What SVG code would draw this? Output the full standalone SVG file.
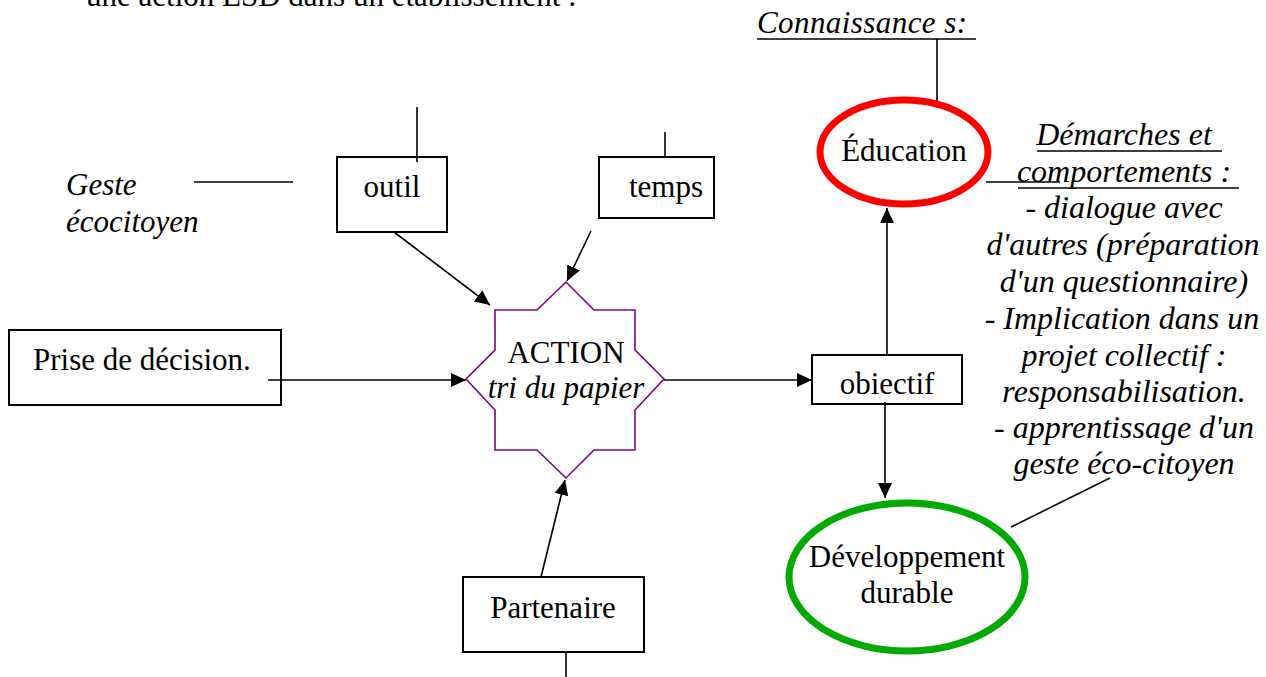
<svg xmlns="http://www.w3.org/2000/svg" width="1266" height="677" viewBox="0 0 1266 677">
<style>
text{font-family:"Liberation Serif","Times New Roman",serif;font-size:31px;fill:#000}
.it{font-style:italic}
.mid{text-anchor:middle}
.rt{font-size:32px}
.box{fill:#fff;stroke:#000;stroke-width:2}
.ln{stroke:#000;stroke-width:1.6;fill:none}
.arr{stroke:#000;stroke-width:1.6;fill:none;marker-end:url(#ah)}
</style>
<defs>
<marker id="ah" markerUnits="userSpaceOnUse" markerWidth="16" markerHeight="14" refX="15" refY="7" orient="auto">
<path d="M0,0 L15,7 L0,14 z" fill="#000"/>
</marker>
</defs>
<rect width="1266" height="677" fill="#fff"/>
<g id="title"><text x="86" y="6">une action ESD dans un établissement :</text></g>
<g id="connaissances">
<text class="it" x="757" y="33" textLength="210">Connaissance s:</text>
<line class="ln" x1="757" y1="39" x2="976" y2="39"/>
</g>
<g id="geste">
<text class="it" x="66" y="195">Geste</text>
<text class="it" x="66" y="232">écocitoyen</text>
</g>
<g id="demarches">
<text class="it mid rt" x="1124" y="145">Démarches et </text>
<line class="ln" x1="1037" y1="151" x2="1222" y2="151"/>
<text class="it mid rt" x="1124" y="182">comportements : </text>
<line class="ln" x1="1018" y1="188" x2="1239" y2="188"/>
<text class="it mid rt" x="1124" y="218">- dialogue avec</text>
<text class="it mid rt" x="1123" y="255">d'autres (préparation</text>
<text class="it mid rt" x="1124" y="292">d'un questionnaire)</text>
<text class="it mid rt" x="1122" y="329">- Implication dans un</text>
<text class="it mid rt" x="1124" y="366">projet collectif :</text>
<text class="it mid rt" x="1124" y="402">responsabilisation.</text>
<text class="it mid rt" x="1124" y="438">- apprentissage d'un</text>
<text class="it mid rt" x="1124" y="474">geste éco-citoyen</text>
</g>
<g id="connectors">
<line class="ln" x1="937" y1="39" x2="937" y2="108"/>
<line class="ln" x1="986" y1="182" x2="1060" y2="182"/>
<line class="ln" x1="1011" y1="527" x2="1110" y2="478"/>
<line class="ln" x1="194" y1="182" x2="293" y2="182"/>
<line class="ln" x1="417" y1="107" x2="417" y2="162"/>
<line class="ln" x1="665" y1="132" x2="665" y2="157"/>
<line class="ln" x1="566" y1="652" x2="566" y2="677"/>
<line class="arr" x1="268" y1="380" x2="466" y2="380"/>
<line class="arr" x1="394" y1="232" x2="490" y2="305"/>
<line class="arr" x1="591" y1="231" x2="567" y2="281"/>
<line class="arr" x1="541" y1="577" x2="565" y2="480"/>
<line class="arr" x1="664" y1="380" x2="812" y2="380"/>
<line class="arr" x1="887" y1="355" x2="887" y2="208"/>
<line class="arr" x1="885" y1="402" x2="885" y2="498"/>
</g>
<g id="prise">
<rect class="box" x="9" y="330" width="272" height="75" style="fill:none"/>
<text x="33" y="370">Prise de décision.</text>
</g>
<g id="outil">
<rect class="box" x="337" y="157" width="110" height="75" style="fill:none"/>
<text class="mid" x="392" y="197">outil</text>
</g>
<g id="temps">
<rect class="box" x="599" y="157" width="115" height="61"/>
<text x="629" y="197">temps</text>
</g>
<g id="action">
<polygon points="495,310 537,310 566,282 594,310 635,310 635,350 664,379 635,410 635,450 594,450 566,478 537,450 495,450 495,410 466,379 495,350" fill="#fff" stroke="#800080" stroke-width="1.6"/>
<text class="mid" x="566" y="363">ACTION</text>
<text class="it mid" x="566" y="398">tri du papier</text>
</g>
<g id="objectif">
<rect class="box" x="812" y="355" width="150" height="49" style="fill:none"/>
<text class="mid" x="887" y="394">obiectif</text>
</g>
<g id="education">
<ellipse cx="904" cy="152" rx="84" ry="52" fill="none" stroke="#ff0000" stroke-width="7"/>
<text class="mid" x="904" y="161">Éducation</text>
</g>
<g id="developpement">
<ellipse cx="907" cy="577" rx="118" ry="74" fill="none" stroke="#00aa00" stroke-width="7"/>
<text class="mid" x="907" y="567">Développement</text>
<text class="mid" x="907" y="603">durable</text>
</g>
<g id="partenaire">
<rect class="box" x="463" y="577" width="181" height="75"/>
<text class="mid" x="553" y="618">Partenaire</text>
</g>
</svg>
